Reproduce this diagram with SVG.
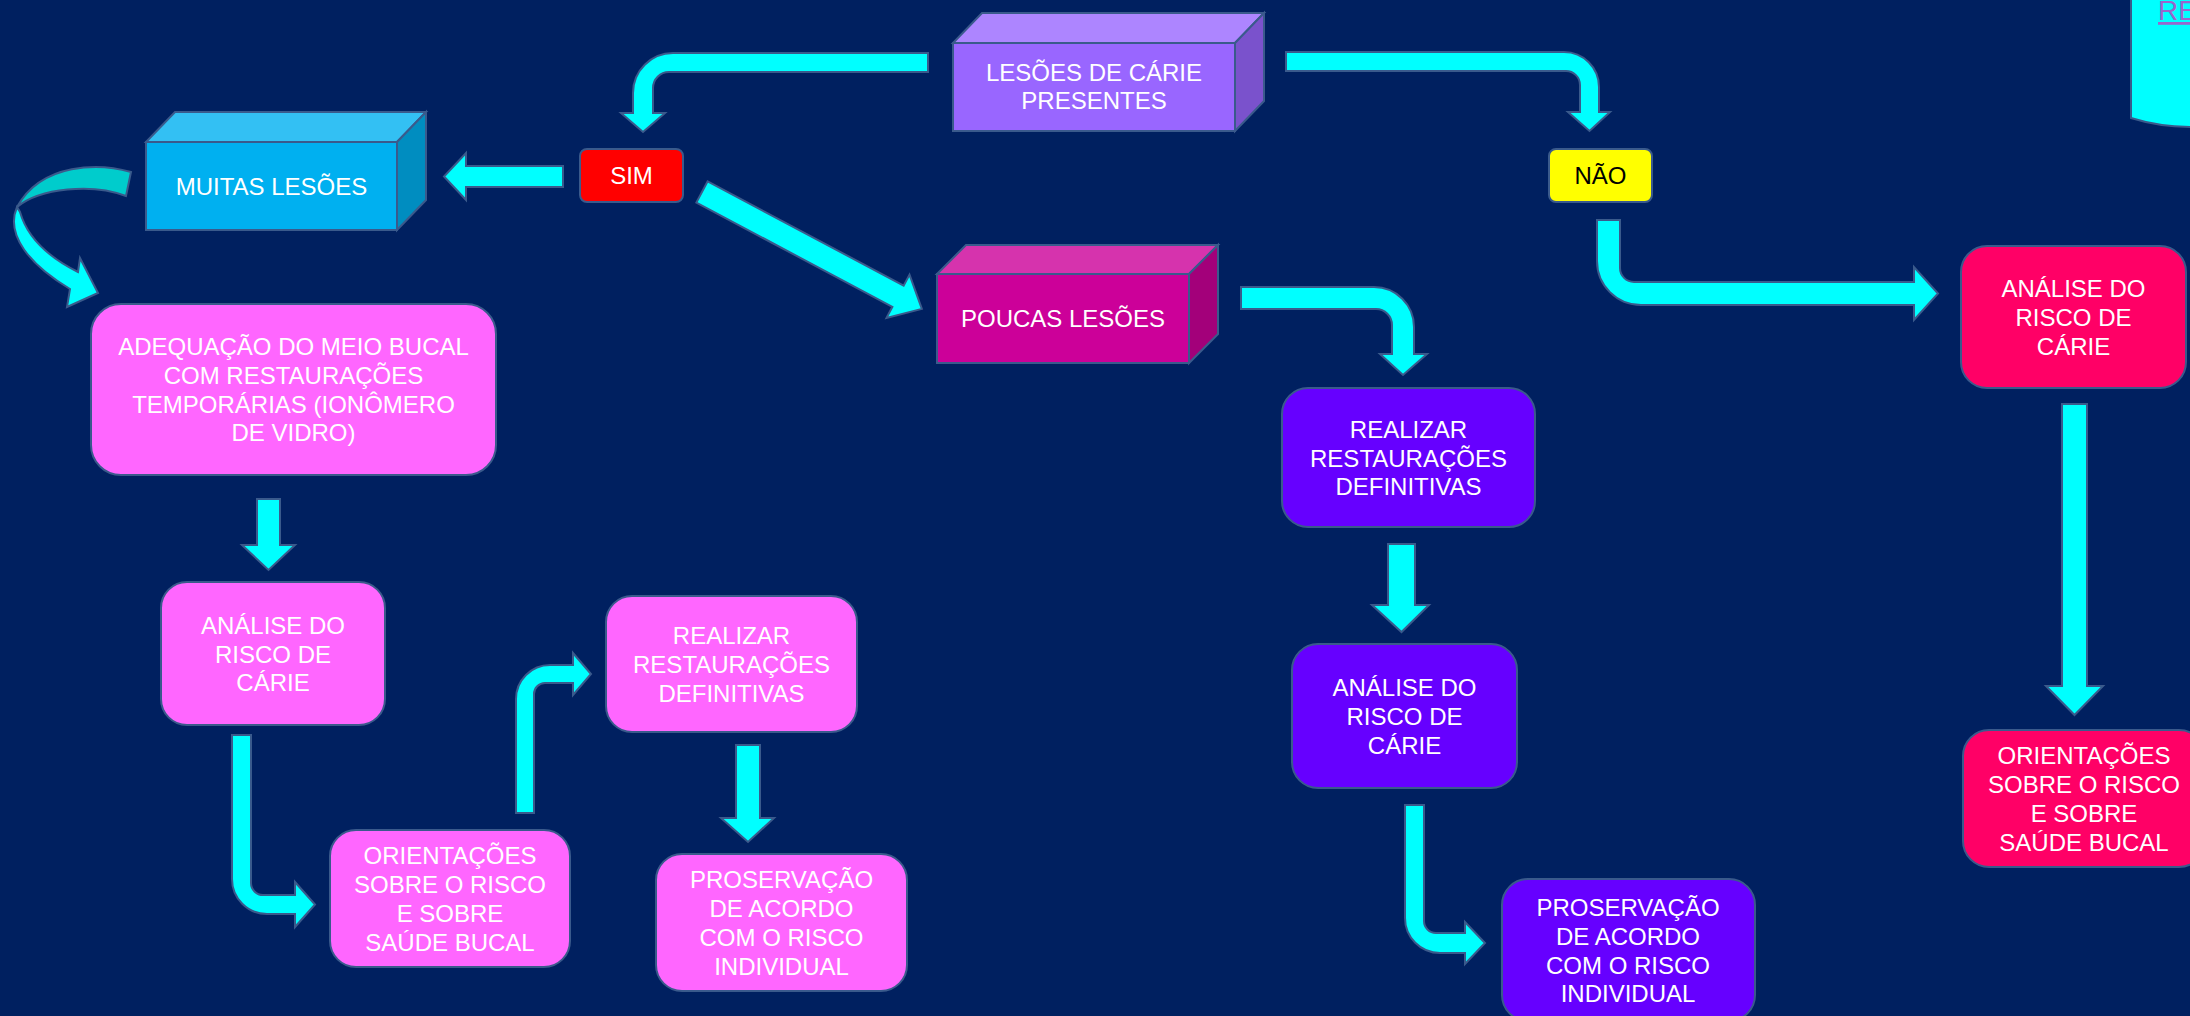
<svg xmlns="http://www.w3.org/2000/svg" width="2190" height="1016" viewBox="0 0 2190 1016">
<style>
.o{stroke:#3A5A8C;stroke-width:2;stroke-linejoin:miter}
.arr{fill:#00FFFF;stroke:#3A5A8C;stroke-width:2;stroke-linejoin:miter}
.t{font-family:"Liberation Sans",Arial,sans-serif;font-size:24px;fill:#FFFFFF;text-anchor:middle}
.pink{fill:#FF66FF}
.purp{fill:#6600FF}
.red{fill:#FF0066}
</style>
<rect x="0" y="0" width="2190" height="1016" fill="#002060"/>

<g id="connectors">
  <path class="arr" d="M928,53 L673,53 A40,40 0 0 0 633,93 L633,113 L621,113 L643,132 L665,113 L653,113 L653,88 A16,16 0 0 1 669,72 L928,72 Z"/>
  <path class="arr" d="M1286,52 L1564,52 A35,35 0 0 1 1599,87 L1599,112 L1610,112 L1589.5,131 L1568,112 L1580,112 L1580,85 A14,14 0 0 0 1566,71 L1286,71 Z"/>
  <path class="arr" d="M1597,220 L1620,220 L1620,268 A14,14 0 0 0 1634,282 L1914,282 L1914,267 L1938,293.5 L1914,320 L1914,305 L1641,305 A44,44 0 0 1 1597,261 Z"/>
  <path class="arr" d="M2062,404 L2087,404 L2087,686 L2103,686 L2074.5,715 L2046,686 L2062,686 Z"/>
  <path class="arr" d="M563,166 L466,166 L466,153 L444,176.5 L466,200 L466,187 L563,187 Z"/>
  <path class="arr" transform="translate(702,192) rotate(28)" d="M0,-12 L222,-12 L222,-24.5 L249,0 L222,24.5 L222,12 L0,12 Z"/>
  <path class="arr" d="M1241,287 L1374,287 A40,40 0 0 1 1414,327 L1414,354 L1427,354 L1403,375 L1380,354 L1392,354 L1392,325 A16,16 0 0 0 1376,309 L1241,309 Z"/>
  <path class="arr" d="M257,499 L280,499 L280,545 L295,545 L268.5,570 L242,545 L257,545 Z"/>
  <path class="arr" d="M232,735 L251,735 L251,883 A12,12 0 0 0 263,895 L295,895 L295,882 L315,904.5 L295,927 L295,914 L267,914 A35,35 0 0 1 232,879 Z"/>
  <path class="arr" d="M516,813 L516,699 A34,34 0 0 1 550,665 L573,665 L573,653 L591,674 L573,695 L573,683 L545,683 A11,11 0 0 0 534,694 L534,813 Z"/>
  <path class="arr" d="M736,745 L760,745 L760,818 L774,818 L748,842 L721,818 L736,818 Z"/>
  <path class="arr" d="M1388,544 L1415,544 L1415,605 L1429,605 L1401.5,632 L1372,605 L1388,605 Z"/>
  <path class="arr" d="M1405,805 L1424,805 L1424,921 A12,12 0 0 0 1436,933 L1465,933 L1465,922 L1485,943 L1465,964 L1465,953 L1440,953 A35,35 0 0 1 1405,918 Z"/>
  <path fill="#00CCCC" class="o" d="M131,172 C100,163 42,162 17,207 C40,188 92,183 126,196 Z"/>
  <path class="arr" d="M17,207 C5,235 30,265 70,289 L67,307 L98,293 L80,258 L78,272 C52,259 28,240 20,212 Z"/>
</g>

<g id="top-right-shape">
  <path fill="#00FFFF" class="o" d="M2131,-3 L2131,118 C2150,124 2170,127 2193,127 L2193,-3 Z"/>
  <text x="2158" y="20" font-family="Liberation Sans, Arial, sans-serif" font-size="28" fill="#9966CC" text-decoration="underline">RE</text>
</g>

<g id="lesoes-presentes">
  <polygon class="o" fill="#AD85FF" points="953,43 982,13 1264,13 1235,43"/>
  <polygon class="o" fill="#7A52CC" points="1235,43 1264,13 1264,101 1235,131"/>
  <rect class="o" fill="#9966FF" x="953" y="43" width="282" height="88"/>
  <text class="t" x="1094" y="81">LESÕES DE CÁRIE</text>
  <text class="t" x="1094" y="109">PRESENTES</text>
</g>

<g id="sim">
  <rect class="o" fill="#FF0000" x="580" y="149" width="103" height="53" rx="7"/>
  <text class="t" x="631.5" y="184">SIM</text>
</g>

<g id="nao">
  <rect class="o" fill="#FFFF00" x="1549" y="149" width="103" height="53" rx="7"/>
  <text class="t" x="1600.5" y="184" style="fill:#000000">NÃO</text>
</g>

<g id="muitas-lesoes">
  <polygon class="o" fill="#33C0F3" points="146,142 175,112 426,112 397,142"/>
  <polygon class="o" fill="#008DC0" points="397,142 426,112 426,200 397,230"/>
  <rect class="o" fill="#00B0F0" x="146" y="142" width="251" height="88"/>
  <text class="t" x="271.5" y="195">MUITAS LESÕES</text>
</g>

<g id="poucas-lesoes">
  <polygon class="o" fill="#D633AD" points="937,274 966,245 1218,245 1189,274"/>
  <polygon class="o" fill="#A3007A" points="1189,274 1218,245 1218,334 1189,363"/>
  <rect class="o" fill="#CC0099" x="937" y="274" width="252" height="89"/>
  <text class="t" x="1063" y="327">POUCAS LESÕES</text>
</g>

<g id="adequacao">
  <rect class="o pink" x="91" y="304" width="405" height="171" rx="30"/>
  <text class="t" x="293.5" y="355">ADEQUAÇÃO DO MEIO BUCAL</text>
  <text class="t" x="293.5" y="384">COM RESTAURAÇÕES</text>
  <text class="t" x="293.5" y="413">TEMPORÁRIAS (IONÔMERO</text>
  <text class="t" x="293.5" y="441">DE VIDRO)</text>
</g>

<g id="analise-pink">
  <rect class="o pink" x="161" y="582" width="224" height="143" rx="26"/>
  <text class="t" x="273" y="633.5">ANÁLISE DO</text>
  <text class="t" x="273" y="662.5">RISCO DE</text>
  <text class="t" x="273" y="691">CÁRIE</text>
</g>

<g id="orientacoes-pink">
  <rect class="o pink" x="330" y="830" width="240" height="137" rx="26"/>
  <text class="t" x="450" y="864">ORIENTAÇÕES</text>
  <text class="t" x="450" y="893">SOBRE O RISCO</text>
  <text class="t" x="450" y="922">E SOBRE</text>
  <text class="t" x="450" y="950.5">SAÚDE BUCAL</text>
</g>

<g id="realizar-pink">
  <rect class="o pink" x="606" y="596" width="251" height="136" rx="26"/>
  <text class="t" x="731.5" y="644">REALIZAR</text>
  <text class="t" x="731.5" y="673">RESTAURAÇÕES</text>
  <text class="t" x="731.5" y="701.5">DEFINITIVAS</text>
</g>

<g id="proservacao-pink">
  <rect class="o pink" x="656" y="854" width="251" height="137" rx="26"/>
  <text class="t" x="781.5" y="888">PROSERVAÇÃO</text>
  <text class="t" x="781.5" y="917">DE ACORDO</text>
  <text class="t" x="781.5" y="946">COM O RISCO</text>
  <text class="t" x="781.5" y="974.5">INDIVIDUAL</text>
</g>

<g id="realizar-purple">
  <rect class="o purp" x="1282" y="388" width="253" height="139" rx="26"/>
  <text class="t" x="1408.5" y="437.5">REALIZAR</text>
  <text class="t" x="1408.5" y="466.5">RESTAURAÇÕES</text>
  <text class="t" x="1408.5" y="495">DEFINITIVAS</text>
</g>

<g id="analise-purple">
  <rect class="o purp" x="1292" y="644" width="225" height="144" rx="26"/>
  <text class="t" x="1404.5" y="696">ANÁLISE DO</text>
  <text class="t" x="1404.5" y="725">RISCO DE</text>
  <text class="t" x="1404.5" y="753.5">CÁRIE</text>
</g>

<g id="proservacao-purple">
  <rect class="o purp" x="1502" y="879" width="253" height="142" rx="26"/>
  <text class="t" x="1628" y="915.5">PROSERVAÇÃO</text>
  <text class="t" x="1628" y="944.5">DE ACORDO</text>
  <text class="t" x="1628" y="973.5">COM O RISCO</text>
  <text class="t" x="1628" y="1002">INDIVIDUAL</text>
</g>

<g id="analise-red">
  <rect class="o red" x="1961" y="246" width="225" height="142" rx="26"/>
  <text class="t" x="2073.5" y="297">ANÁLISE DO</text>
  <text class="t" x="2073.5" y="326">RISCO DE</text>
  <text class="t" x="2073.5" y="354.5">CÁRIE</text>
</g>

<g id="orientacoes-red">
  <rect class="o red" x="1963" y="730" width="242" height="137" rx="26"/>
  <text class="t" x="2084" y="764">ORIENTAÇÕES</text>
  <text class="t" x="2084" y="793">SOBRE O RISCO</text>
  <text class="t" x="2084" y="822">E SOBRE</text>
  <text class="t" x="2084" y="850.5">SAÚDE BUCAL</text>
</g>
</svg>
